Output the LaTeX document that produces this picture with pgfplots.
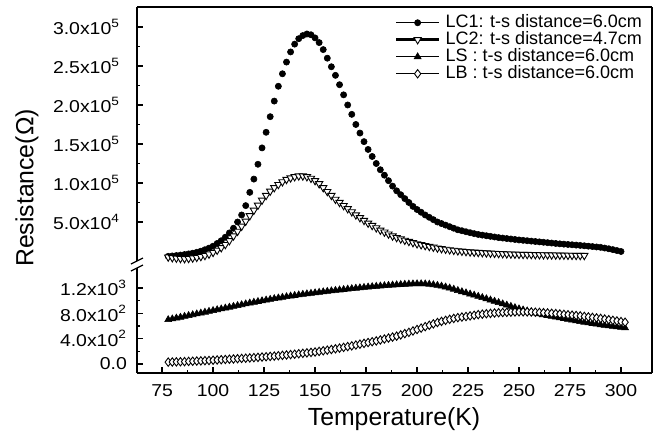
\documentclass[border=0pt]{standalone}
\usepackage{fontspec}
\setmainfont{Liberation Sans}
\newfontfamily\tickfont{Liberation Sans}[FakeStretch=1.13]
\usepackage{pgfplots}
\pgfplotsset{compat=1.18}
\pgfplotsset{
  brk/.style={
    scale only axis, width=257.5pt, xmin=62.7, xmax=315.2,
    axis line style={line width=0.7pt},
    tick style={black, line width=0.6pt},
    major tick length=3pt, minor tick length=1.6pt,
    tick align=inside, ytick pos=left,
    scaled y ticks=false, scaled x ticks=false,
    /pgf/number format/assume math mode=true,
    ticklabel style={font=\tickfont\fontsize{8.6}{10}\selectfont},
  },
  mylegend/.style={legend image code/.code={\draw[black, line width=#1] (0cm,0cm) -- (0.76cm,0cm); \draw[##1] plot coordinates {(0.38cm,0cm)};}},
  lc1/.style={only marks, mark=*, mark size=1.55pt, mark options={fill=black, draw=black, line width=0.3pt}},
  lc2/.style={only marks, mark=triangle*, mark size=2.1pt, mark options={fill=white, draw=black, rotate=180, line width=0.45pt}},
  ls/.style={only marks, mark=triangle*, mark size=2.0pt, mark options={fill=black, draw=black, line width=0.3pt}},
  lb/.style={only marks, mark=diamond*, mark size=2.1pt, mark options={fill=white, draw=black, line width=0.45pt}},
}
\begin{document}
\begin{tikzpicture}
\useasboundingbox (-68.5pt,3.5pt) rectangle (260pt,-213.5pt);
\begin{axis}[brk, name=upper, at={(0,0)}, anchor=north west, height=127pt,
  ymin=0, ymax=325600,
  axis x line*=top, axis y line*=box, xtick=\empty,
  ytick={50000,100000,150000,200000,250000,300000},
  yticklabels={5.0x10\textsuperscript{4},1.0x10\textsuperscript{5},1.5x10\textsuperscript{5},2.0x10\textsuperscript{5},2.5x10\textsuperscript{5},3.0x10\textsuperscript{5}},
  minor y tick num=1,
  yticklabel style={xshift=-5pt},
  mylegend=0.6pt,
  legend style={draw=none, fill=none, at={(0.981,0.973)}, anchor=north east, inner sep=0pt, row sep=0pt,
    font=\fontsize{9}{9}\selectfont, nodes={inner sep=0pt, text height=6.6pt, text depth=1.9pt}, /tikz/column sep=2.5pt},
  legend cell align=left,
]
\addplot[lc1] coordinates {(78,6000)(80,6500)(82,7000)(84,7600)(86,8300)(88,9100)(90,10000)(92,11200)(94,12600)(96,14500)(98,16500)(100,19000)(102,22500)(104,26000)(106,30500)(108,36000)(110,42000)(112,50000)(114,59000)(116,71000)(118,88000)(120,105000)(122,124000)(124,145000)(126,165000)(128,185000)(130,205000)(132,224000)(134,240000)(136,255000)(138,268000)(140,278000)(142,285000)(144,289000)(146,291000)(148,290000)(150,286000)(152,280000)(154,271000)(156,260000)(158,249000)(160,238000)(162,226000)(164,213000)(166,200000)(168,188000)(170,175000)(172,164000)(174,153000)(176,143000)(178,134000)(180,125000)(182,117000)(184,110000)(186,103000)(188,96000)(190,90000)(192,85000)(194,80000)(196,75000)(198,70000)(200,66000)(202,62500)(204,59000)(206,56000)(208,53000)(210,50000)(212,48000)(214,46000)(216,44000)(218,42000)(220,40000)(222,38800)(224,37500)(226,36300)(228,35100)(230,34000)(232,33200)(234,32400)(236,31600)(238,30800)(240,30000)(242,29400)(244,28800)(246,28200)(248,27600)(250,27000)(252,26500)(254,26000)(256,25500)(258,25000)(260,24500)(262,24000)(264,23500)(266,23000)(268,22500)(270,22000)(272,21600)(274,21200)(276,20800)(278,20400)(280,20000)(282,19500)(284,19000)(286,18500)(288,18000)(290,17500)(292,16600)(294,15700)(296,14600)(298,13400)(300,12200)};
\addlegendentry{LC1: t-s distance=6.0cm}
\addplot[lc2, mylegend=1.3pt] coordinates {(78,5000)(80,4200)(82,3600)(84,3200)(86,3000)(88,3200)(90,3800)(92,4600)(94,5700)(96,7000)(98,8800)(100,11000)(102,13800)(104,17000)(106,21000)(108,26000)(110,32000)(112,38000)(114,44500)(116,51000)(118,58000)(120,65000)(122,71500)(124,78000)(126,84000)(128,89500)(130,94000)(132,98000)(134,101500)(136,104500)(138,106500)(140,108000)(142,109000)(144,109000)(146,108000)(148,106000)(150,103000)(152,99000)(154,94000)(156,89000)(158,84000)(160,79000)(162,75000)(164,71000)(166,67000)(168,63000)(170,59000)(172,55500)(174,52000)(176,48500)(178,45500)(180,42500)(182,39500)(184,37000)(186,34500)(188,32000)(190,30000)(192,28200)(194,26500)(196,25000)(198,23500)(200,22000)(202,20800)(204,19700)(206,18600)(208,17600)(210,16600)(212,15800)(214,15000)(216,14300)(218,13600)(220,13000)(222,12500)(224,12000)(226,11600)(228,11200)(230,10900)(232,10600)(234,10300)(236,10000)(238,9800)(240,9500)(242,9300)(244,9100)(246,8900)(248,8700)(250,8500)(252,8400)(254,8300)(256,8200)(258,8100)(260,8000)(262,7900)(264,7800)(266,7700)(268,7600)(270,7500)(272,7400)(274,7300)(276,7200)(278,7100)(280,7000)(282,7000)};
\addlegendentry{LC2: t-s distance=4.7cm}
\addlegendimage{ls}
\addlegendentry{LS : t-s distance=6.0cm}
\addlegendimage{lb}
\addlegendentry{LB : t-s distance=6.0cm}
\end{axis}
\begin{axis}[brk, name=lower, at={(0,-130.5pt)}, anchor=north west, height=52.5pt,
  ymin=-142, ymax=1516,
  axis x line*=bottom, axis y line*=box,
  xtick={75,100,125,150,175,200,225,250,275,300}, minor x tick num=1,
  xticklabel style={yshift=-2.3pt},
  ytick={0,400,800,1200},
  yticklabels={0.0,4.0x10\textsuperscript{2},8.0x10\textsuperscript{2},1.2x10\textsuperscript{3}},
  minor y tick num=1,
  yticklabel style={xshift=-1.5pt},
]
\addplot[ls] coordinates {(78,700)(80,712)(82,725)(84,738)(86,752)(88,765)(90,778)(92,791)(94,804)(96,818)(98,831)(100,844)(102,857)(104,870)(106,883)(108,897)(110,910)(112,923)(114,936)(116,950)(118,963)(120,975)(122,987)(124,998)(126,1010)(128,1021)(130,1032)(132,1043)(134,1053)(136,1063)(138,1073)(140,1082)(142,1091)(144,1100)(146,1108)(148,1116)(150,1124)(152,1132)(154,1140)(156,1147)(158,1155)(160,1162)(162,1169)(164,1176)(166,1183)(168,1190)(170,1197)(172,1203)(174,1209)(176,1215)(178,1221)(180,1227)(182,1232)(184,1237)(186,1242)(188,1247)(190,1251)(192,1255)(194,1259)(196,1262)(198,1265)(200,1267)(202,1267)(204,1265)(206,1260)(208,1252)(210,1242)(212,1230)(214,1216)(216,1200)(218,1181)(220,1160)(222,1141)(224,1123)(226,1105)(228,1087)(230,1068)(232,1049)(234,1030)(236,1010)(238,990)(240,970)(242,950)(244,930)(246,910)(248,890)(250,871)(252,854)(254,838)(256,822)(258,806)(260,791)(262,778)(264,766)(266,754)(268,742)(270,730)(272,718)(274,706)(276,694)(278,682)(280,670)(282,660)(284,650)(286,640)(288,630)(290,620)(292,612)(294,603)(296,595)(298,586)(300,578)(302,570)};
\addplot[lb] coordinates {(78,30)(80,32)(82,34)(84,36)(86,38)(88,41)(90,44)(92,47)(94,50)(96,53)(98,56)(100,60)(102,64)(104,68)(106,72)(108,76)(110,80)(112,84)(114,88)(116,92)(118,96)(120,100)(122,105)(124,110)(126,115)(128,120)(130,125)(132,131)(134,137)(136,143)(138,149)(140,155)(142,162)(144,169)(146,176)(148,183)(150,190)(152,199)(154,209)(156,219)(158,229)(160,240)(162,251)(164,263)(166,275)(168,287)(170,300)(172,313)(174,326)(176,339)(178,352)(180,365)(182,380)(184,395)(186,410)(188,425)(190,440)(192,460)(194,480)(196,500)(198,522)(200,545)(202,567)(204,590)(206,612)(208,634)(210,655)(212,673)(214,690)(216,706)(218,720)(220,732)(222,742)(224,750)(226,760)(228,770)(230,780)(232,787)(234,794)(236,800)(238,805)(240,810)(242,813)(244,816)(246,819)(248,822)(250,824)(252,824)(254,823)(256,821)(258,818)(260,815)(262,811)(264,806)(266,801)(268,796)(270,790)(272,784)(274,778)(276,772)(278,766)(280,760)(282,752)(284,744)(286,736)(288,728)(290,720)(292,710)(294,700)(296,690)(298,680)(300,670)(302,660)};
\end{axis}
\draw[line width=0.7pt] (257.5pt,-127pt) -- (257.5pt,-130.5pt);
\draw[line width=0.6pt] (-3pt,-128.5pt) -- (3pt,-125.5pt);
\draw[line width=0.6pt] (-3pt,-132pt) -- (3pt,-129pt);
\node[rotate=90, font=\fontsize{12.4}{14}\selectfont] at (-55pt,-90.5pt) {Resistance(Ω)};
\node[font=\fontsize{12.4}{14}\selectfont] at (128.5pt,-206pt) {Temperature(K)};
\end{tikzpicture}
\end{document}
